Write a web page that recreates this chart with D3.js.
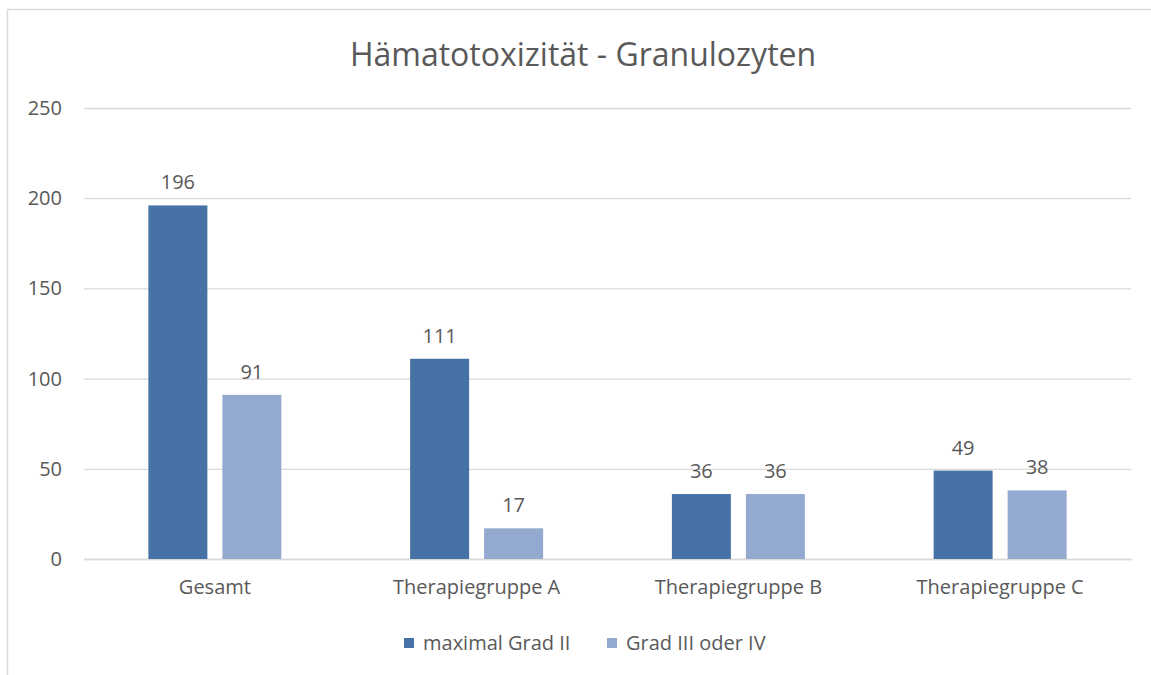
<!DOCTYPE html>
<html>
<head>
<meta charset="utf-8">
<script src="https://cdn.jsdelivr.net/npm/d3@7"></script>
<style>
  body { margin: 0; background: #fff; }
  svg text { font-family: "Open Sans", "Noto Sans", sans-serif; fill: #595959; }
</style>
</head>
<body>
<svg id="chart" width="1151" height="675"></svg>
<script>
const categories = ['Gesamt', 'Therapiegruppe A', 'Therapiegruppe B', 'Therapiegruppe C'];
const seriesNames = ['maximal Grad II', 'Grad III oder IV'];
const maxGradII = [196, 111, 36, 49];
const gradIIIoderIV = [91, 17, 36, 38];
const yTicks = [0, 50, 100, 150, 200, 250];
const title = 'Hämatotoxizität - Granulozyten';

const COLORS = ['#4672A6', '#94A9D0'];
const GRID_COLOR = '#d9d9d9';
const FONT_SIZE = 20;

const margins = {left: 84, right: 20, top: 108, bottom: 116};
const width = 1151 - margins.left - margins.right;
const height = 675 - margins.top - margins.bottom;

const svg = d3.select('#chart');

// chart area border
svg.append('rect')
    .attr('x', 7.5)
    .attr('y', 9.5)
    .attr('width', 1200)
    .attr('height', 700)
    .attr('fill', 'none')
    .attr('stroke', GRID_COLOR)
    .attr('stroke-width', 1.5);

svg.append('text')
    .attr('x', 583)
    .attr('y', 66)
    .attr('text-anchor', 'middle')
    .attr('font-size', 32)
    .text(title);

const g = svg.append('g')
    .attr('transform', `translate(${margins.left},${margins.top})`);

const xScale = d3.scaleBand()
    .domain(categories)
    .range([0, width])
    .padding(0);

const yScale = d3.scaleLinear()
    .domain([0, 250])
    .range([height, 0]);

const barWidth = 59;
const barGap = 15;
const subScale = d3.scaleBand()
    .domain(seriesNames)
    .range([0, barWidth * 2 + barGap])
    .paddingInner(barGap / (barWidth + barGap))
    .paddingOuter(0);

// gridlines + y tick labels
const yAxis = d3.axisLeft(yScale)
    .tickValues(yTicks)
    .tickSize(-width)
    .tickPadding(22);
g.append('g')
    .attr('class', 'y-axis')
    .call(yAxis)
    .call(s => s.select('.domain').remove())
    .call(s => s.selectAll('.tick line').attr('stroke', GRID_COLOR).attr('stroke-width', 1.3))
    .call(s => s.selectAll('.tick text')
        .attr('font-size', FONT_SIZE)
        .attr('fill', '#595959')
        .attr('font-family', '"Open Sans", sans-serif'));

// x axis labels
const xAxis = d3.axisBottom(xScale).tickSize(0).tickPadding(21);
g.append('g')
    .attr('class', 'x-axis')
    .attr('transform', `translate(0,${height})`)
    .call(xAxis)
    .call(s => s.select('.domain').attr('stroke', GRID_COLOR).attr('stroke-width', 1.3))
    .call(s => s.selectAll('.tick text')
        .attr('font-size', FONT_SIZE)
        .attr('fill', '#595959')
        .attr('font-family', '"Open Sans", sans-serif'));

const rows = categories.map((c, i) => ({
    category: c,
    values: [maxGradII[i], gradIIIoderIV[i]]
}));

const groups = g.selectAll('.group')
    .data(rows)
    .join('g')
    .attr('class', 'group')
    .attr('transform', d => `translate(${xScale(d.category) + (xScale.bandwidth() - subScale.range()[1]) / 2},0)`);

groups.selectAll('rect')
    .data(d => d.values.map((v, i) => ({name: seriesNames[i], value: v, i})))
    .join('rect')
    .attr('x', d => subScale(d.name))
    .attr('y', d => yScale(d.value))
    .attr('width', subScale.bandwidth())
    .attr('height', d => height - yScale(d.value))
    .attr('fill', d => COLORS[d.i]);

groups.selectAll('.label')
    .data(d => d.values.map((v, i) => ({name: seriesNames[i], value: v})))
    .join('text')
    .attr('class', 'label')
    .attr('x', d => subScale(d.name) + subScale.bandwidth() / 2)
    .attr('y', d => yScale(d.value) - 16)
    .attr('text-anchor', 'middle')
    .attr('font-size', FONT_SIZE)
    .text(d => d.value);

// legend
const legend = svg.append('g').attr('transform', 'translate(404,643)');
const legendX = [0, 203];
seriesNames.forEach((name, i) => {
    const item = legend.append('g').attr('transform', `translate(${legendX[i]},0)`);
    item.append('rect')
        .attr('x', 0)
        .attr('y', -5)
        .attr('width', 10)
        .attr('height', 10)
        .attr('fill', COLORS[i]);
    item.append('text')
        .attr('x', 19)
        .attr('y', 0)
        .attr('dy', '0.35em')
        .attr('font-size', FONT_SIZE)
        .text(name);
});
</script>
</body>
</html>
